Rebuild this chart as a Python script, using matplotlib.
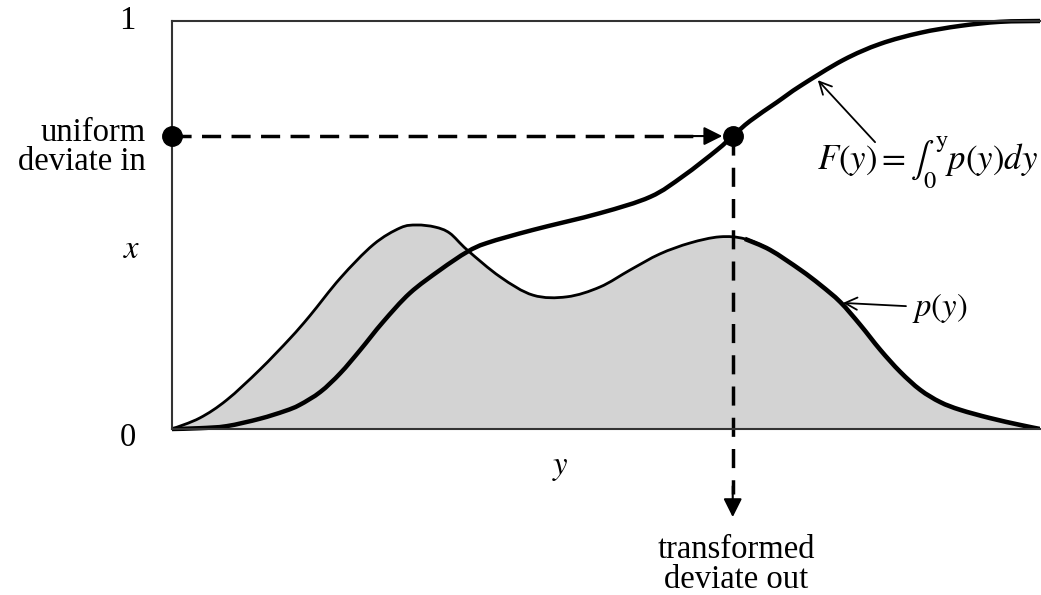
import matplotlib
matplotlib.use("Agg")
from matplotlib import pyplot as plt
from matplotlib.path import Path
from matplotlib.patches import PathPatch

plt.rcParams['font.family'] = ['Liberation Serif', 'DejaVu Serif']
plt.rcParams['mathtext.fontset'] = 'stix'

# p(y): density
p_x = [0, 0.032, 0.063, 0.101, 0.136, 0.159, 0.194, 0.232, 0.263, 0.282, 0.303,
       0.320, 0.340, 0.378, 0.416, 0.455, 0.493, 0.528, 0.562, 0.597, 0.631,
       0.660, 0.689, 0.724, 0.747, 0.770, 0.793, 0.816, 0.839, 0.862, 0.885,
       0.908, 0.942, 0.977, 1.0]
p_val = [0, 0.027, 0.071, 0.145, 0.222, 0.278, 0.370, 0.452, 0.493, 0.500, 0.495,
         0.480, 0.439, 0.373, 0.328, 0.324, 0.348, 0.390, 0.429, 0.456, 0.471,
         0.466, 0.439, 0.390, 0.353, 0.311, 0.255, 0.194, 0.140, 0.096, 0.066,
         0.047, 0.027, 0.010, 0]

# F(y): cumulative curve
F_x = [0, 0.032, 0.063, 0.101, 0.130, 0.147, 0.171, 0.194, 0.217, 0.243, 0.274,
       0.309, 0.340, 0.363, 0.416, 0.493, 0.551, 0.589, 0.628, 0.646, 0.666,
       0.697, 0.724, 0.773, 0.816, 0.862, 0.908, 0.954, 1.0]
F_val = [0, 0.002, 0.007, 0.025, 0.044, 0.059, 0.091, 0.137, 0.194, 0.262, 0.333,
         0.390, 0.434, 0.456, 0.488, 0.529, 0.569, 0.620, 0.684, 0.718, 0.755,
         0.801, 0.841, 0.904, 0.944, 0.971, 0.988, 0.998, 1.0]

x_dev = 0.718   # uniform deviate
y_dev = 0.646   # transformed deviate


def smooth_path(xs, ys, close_to_base=False):
    # Catmull-Rom through the points, drawn as cubic Bezier segments
    pts = list(zip(xs, ys))
    verts = [pts[0]]
    codes = [Path.MOVETO]
    n = len(pts)
    for i in range(n - 1):
        p0 = pts[max(i - 1, 0)]
        p1 = pts[i]
        p2 = pts[i + 1]
        p3 = pts[min(i + 2, n - 1)]
        c1 = (p1[0] + (p2[0] - p0[0]) / 6, p1[1] + (p2[1] - p0[1]) / 6)
        c2 = (p2[0] - (p3[0] - p1[0]) / 6, p2[1] - (p3[1] - p1[1]) / 6)
        verts += [c1, c2, p2]
        codes += [Path.CURVE4] * 3
    if close_to_base:
        verts += [(xs[-1], 0), (xs[0], 0), pts[0]]
        codes += [Path.LINETO, Path.LINETO, Path.CLOSEPOLY]
    return Path(verts, codes)


fig = plt.figure(figsize=(10.41, 5.95), dpi=100)
ax = fig.add_axes([172 / 1041, 166 / 595, 868 / 1041, 408 / 595])
ax.set_xlim(0, 1)
ax.set_ylim(0, 1)
ax.set_xticks([])
ax.set_yticks([])
for s in ['left', 'top', 'bottom']:
    ax.spines[s].set_linewidth(1.5)
    ax.spines[s].set_color('#333333')
ax.spines['right'].set_visible(False)

# density
ax.add_patch(PathPatch(smooth_path(p_x, p_val, True), facecolor='#d3d3d3', lw=0))
ax.add_patch(PathPatch(smooth_path(p_x, p_val), facecolor='none', edgecolor='k', lw=2.0))
k = p_x.index(0.660)
ax.add_patch(PathPatch(smooth_path(p_x[k:], p_val[k:]), facecolor='none',
                       edgecolor='k', lw=3.3, capstyle='butt'))

# cumulative
ax.add_patch(PathPatch(smooth_path(F_x, F_val), facecolor='none', edgecolor='k',
                       lw=3.2, clip_on=False))

# dashed arrows
ax.plot([0, 0.61], [x_dev, x_dev], color='k', lw=2.5, dashes=(5.5, 3), clip_on=False)
ax.annotate('', xy=(0.634, x_dev), xytext=(0.6, x_dev),
            arrowprops=dict(arrowstyle='-|>', color='k', lw=1.5, mutation_scale=28,
                            shrinkA=0, shrinkB=0))
ax.plot([y_dev, y_dev], [x_dev, -0.16], color='k', lw=2.5, dashes=(5.5, 3.5), clip_on=False)
ax.annotate('', xy=(y_dev, -0.216), xytext=(y_dev, -0.14),
            arrowprops=dict(arrowstyle='-|>', color='k', lw=1.5, mutation_scale=28,
                            shrinkA=0, shrinkB=0), annotation_clip=False)

# dots
ax.plot([0, y_dev], [x_dev, x_dev], 'o', color='k', ms=14, clip_on=False, zorder=5)

# text
fs = 23.5
ax.text(-0.051, 1.0, '1', fontsize=fs, ha='center', va='center', clip_on=False)
ax.text(-0.051, -0.022, '0', fontsize=fs, ha='center', va='center', clip_on=False)
ax.text(-0.030, 0.691, 'uniform\ndeviate in', fontsize=fs, ha='right', va='center',
        multialignment='right', linespacing=0.95)
ax.text(-0.046, 0.439, '$x$', fontsize=fs, ha='center', va='center')
ax.text(0.447, -0.096, '$y$', fontsize=fs, ha='center', va='center')
ax.text(0.650, -0.333, 'transformed\ndeviate out', fontsize=fs, ha='center', va='center',
        linespacing=0.95)

ax.annotate('$p(y)$', xy=(0.773, 0.309), xytext=(0.852, 0.297), fontsize=fs,
            va='center', ha='left',
            arrowprops=dict(arrowstyle='->', color='k', lw=1.3, mutation_scale=22,
                            shrinkA=2, shrinkB=0))
ax.text(0.743, 0.652, r'$F(y) = \int_0^{\mathrm{y}} p(y)dy$', fontsize=25,
        va='center', ha='left')
ax.annotate('', xy=(0.744, 0.855), xytext=(0.810, 0.703),
            arrowprops=dict(arrowstyle='->', color='k', lw=1.3, mutation_scale=22,
                            shrinkA=0, shrinkB=0))

fig.savefig('out.png', dpi=100)
